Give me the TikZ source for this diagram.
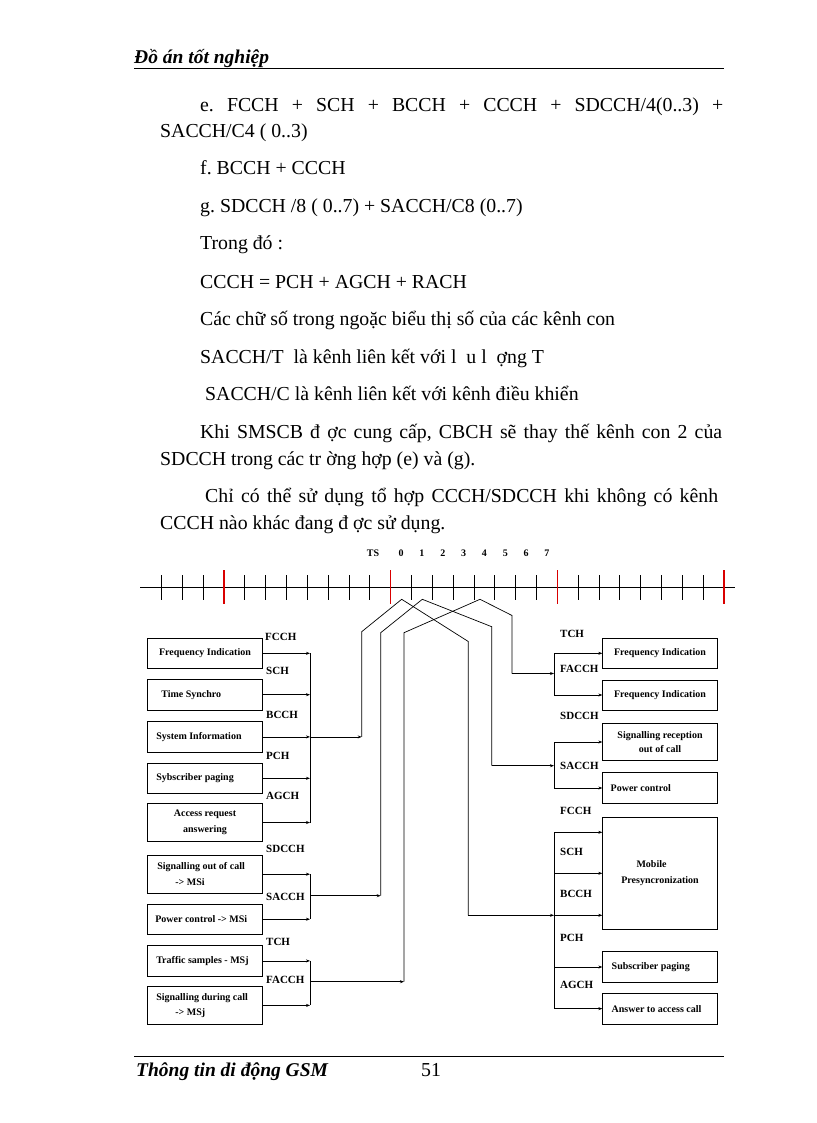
\documentclass[tikz,border=0pt]{standalone}
\usepackage{fontspec}
\setmainfont{Liberation Serif}
\usetikzlibrary{arrows.meta}
\begin{document}
\begin{tikzpicture}[x=1pt,y=-1pt,
  body/.style={anchor=base west,inner sep=0pt,font=\fontsize{19.8}{23}\selectfont\frenchspacing},
  hdr/.style={anchor=base west,inner sep=0pt,font=\fontsize{19.5}{23}\selectfont\bfseries\itshape},
  lbl/.style={anchor=west,inner sep=0pt,font=\fontsize{11}{12}\selectfont\bfseries},
  tslbl/.style={inner sep=0pt,font=\fontsize{10}{12}\selectfont\bfseries},
  bx/.style={draw,line width=0.7pt,inner sep=0pt,font=\fontsize{10}{12.5}\selectfont\bfseries,align=center},
  bxl/.style={bx,align=flush left,inner xsep=7pt,text width=101.4pt},
  ln/.style={line width=0.7pt},
  arr/.style={ln,-{Stealth[length=4pt,width=3pt]}},
  tick/.style={line width=0.7pt},
  redtick/.style={line width=1.4pt,red!85!black},
]
\useasboundingbox (0,0) rectangle (816,1123);
\fill[white] (0,0) rectangle (816,1123);

% ---------- header ----------
\node[hdr] (head) at (134,64) {Đồ án tốt nghiệp};
\draw[line width=0.8pt] (134,68) -- (724,68);

% ---------- body text ----------
\node[body] (t1) at (200,112) {\makebox[523pt][s]{e. FCCH + SCH + BCCH + CCCH + SDCCH/4(0..3) +}};
\node[body] (t2) at (160,138) {SACCH/C4 ( 0..3)};
\node[body] (t3) at (200,175) {f. BCCH + CCCH};
\node[body] (t4) at (200,213) {g. SDCCH /8 ( 0..7) + SACCH/C8 (0..7)};
\node[body] (t5) at (200,250) {Trong đó :};
\node[body] (t6) at (200,288) {CCCH = PCH + AGCH + RACH};
\node[body] (t7) at (200,325) {Các chữ số trong ngoặc biểu thị số của các kênh con};
\node[body] (t8) at (200,363) {SACCH/T\ \ là kênh liên kết với l\ \ u l\ \ ợng T};
\node[body] (t9) at (205,400) {SACCH/C là kênh liên kết với kênh điều khiển};
\node[body] (t10) at (200,438) {\makebox[522pt][s]{Khi SMSCB đ\ ợc cung cấp, CBCH sẽ thay thế kênh con 2 của}};
\node[body] (t11) at (160,465) {SDCCH trong các tr\ ờng hợp (e) và (g).};
\node[body] (t12) at (205,502) {\makebox[513pt][s]{Chỉ có thể sử dụng tổ hợp CCCH/SDCCH khi không có kênh}};
\node[body] (t13) at (160,529) {CCCH nào khác đang đ\ ợc sử dụng.};

% ---------- time axis ----------
\draw[tick] (140,587) -- (735,587);
\foreach \i in {0,...,27}{
  \pgfmathsetmacro\xx{161.5+20.8333*\i}
  \pgfmathtruncatemacro\m{mod(\i,8)}
  \ifnum\m=3
    \draw[redtick] (\xx,570) -- (\xx,604);
  \else
    \draw[tick] (\xx,575) -- (\xx,600);
  \fi
}
\node[tslbl] (ts) at (373,553) {TS};
\foreach \k in {0,...,7}{
  \node[tslbl] (ts\k) at ({401.1+20.8333*\k},553) {\k};
}

% ---------- left boxes ----------
\node[bx,minimum width=115.4pt,minimum height=30pt] (L1) at (205,653.3) {Frequency Indication};
\node[bxl,minimum height=30.7pt] (L2) at (205,694.7) {\hspace*{7pt}Time Synchro};
\node[bxl,minimum height=30.3pt] (L3) at (205,736.9) {\hspace*{2pt}System Information};
\node[bxl,minimum height=30pt] (L4) at (205,778.3) {\hspace*{2pt}Sybscriber paging};
\node[bx,minimum width=115.4pt,minimum height=38.4pt,font=\fontsize{10}{16}\selectfont\bfseries] (L5) at (205,822.5) {Access request\\answering};
\node[bxl,minimum height=38.3pt,font=\fontsize{10}{16.5}\selectfont\bfseries] (L6) at (205,874.2) {\hspace*{3pt}Signalling out of call\\\hspace*{21pt}-> MSi};
\node[bxl,minimum height=30.3pt] (L7) at (205,919.2) {\hspace*{1pt}Power control -> MSi};
\node[bxl,minimum height=30.3pt] (L8) at (205,960.9) {\hspace*{2pt}Traffic samples - MSj};
\node[bxl,minimum height=37.3pt,font=\fontsize{10}{15.5}\selectfont\bfseries] (L9) at (205,1005.4) {\hspace*{2pt}Signalling during call\\\hspace*{21pt}-> MSj};

% left labels
\node[lbl] (lf1) at (265,636.7) {FCCH};
\node[lbl] (lf2) at (266,670.7) {SCH};
\node[lbl] (lf3) at (266,715) {BCCH};
\node[lbl] (lf4) at (266,756) {PCH};
\node[lbl] (lf5) at (266,795.7) {AGCH};
\node[lbl] (lf6) at (266,849.3) {SDCCH};
\node[lbl] (lf7) at (266,896.7) {SACCH};
\node[lbl] (lf8) at (266,941.7) {TCH};
\node[lbl] (lf9) at (266,980) {FACCH};

% left buses
\coordinate (busL) at (310,0);
\foreach \b in {L1,L2,L3,L4,L5,L6,L7,L8,L9}{
  \draw[arr] (\b.east) -- (\b.east -| busL);
}
\draw[ln] (L1.east -| busL) -- (L5.east -| busL);
\draw[ln] (L6.east -| busL) -- (L7.east -| busL);
\draw[ln] (L8.east -| busL) -- (L9.east -| busL);

% ---------- crossing lines ----------
\coordinate (a0) at (361.7,736.9);
\coordinate (a1) at (361.7,631.7);
\coordinate (a2) at (401.7,599.3);
\coordinate (a3) at (468.3,641.5);
\coordinate (a4) at (468.3,915.3);

\coordinate (b0) at (380.7,895.7);
\coordinate (b1) at (380.7,632.7);
\coordinate (b2) at (422.3,599.3);
\coordinate (b3) at (491.7,626.7);
\coordinate (b4) at (491.7,765.7);

\coordinate (c0) at (404,981.7);
\coordinate (c1) at (404,632.7);
\coordinate (c2) at (480,599.3);
\coordinate (c3) at (512,615.5);
\coordinate (c4) at (512,673.5);

\draw[arr] (L3.east -| busL) -- (a0);
\draw[arr] (b0 -| busL) -- (b0);
\draw[arr] (c0 -| busL) -- (c0);
\draw[ln] (a0) -- (a1) -- (a2) -- (a3) -- (a4);
\draw[ln] (b0) -- (b1) -- (b2) -- (b3) -- (b4);
\draw[ln] (c0) -- (c1) -- (c2) -- (c3) -- (c4);

% ---------- right boxes ----------
\node[bx,minimum width=114.6pt,minimum height=30pt] (R1) at (660,653.3) {Frequency Indication};
\node[bx,minimum width=114.6pt,minimum height=30pt] (R2) at (660,695) {Frequency Indication};
\node[bx,minimum width=114.6pt,minimum height=37.4pt,font=\fontsize{10}{13.3}\selectfont\bfseries] (R3) at (660,742) {Signalling reception\\out of call};
\node[bxl,text width=100.6pt,inner xsep=7pt,minimum height=30.6pt] (R4) at (660,788) {\hspace*{1pt}Power control};
\node[bx,minimum width=114.6pt,minimum height=111.7pt,font=\fontsize{10}{16.5}\selectfont\bfseries] (R5) at (660,873.15) {\hspace*{-17pt}Mobile\\Presyncronization};
\node[bxl,text width=100.6pt,inner xsep=7pt,minimum height=30.6pt] (R6) at (660,967) {\hspace*{2pt}Subscriber paging};
\node[bxl,text width=100.6pt,inner xsep=7pt,minimum height=30.7pt] (R7) at (660,1008.65) {\hspace*{2pt}Answer to access call};

% right labels
\node[lbl] (rl1) at (560,633.5) {TCH};
\node[lbl] (rl2) at (560,669.3) {FACCH};
\node[lbl] (rl3) at (560,715.7) {SDCCH};
\node[lbl] (rl4) at (560,765.7) {SACCH};
\node[lbl] (rl5) at (560,810.7) {FCCH};
\node[lbl] (rl6) at (560,851.5) {SCH};
\node[lbl] (rl7) at (560,894) {BCCH};
\node[lbl] (rl8) at (560,937.7) {PCH};
\node[lbl] (rl9) at (560,985) {AGCH};

% right buses
\coordinate (busR) at (554,0);
\coordinate (r5a) at (554,832.3);
\coordinate (r5b) at (554,873.3);
\coordinate (r5c) at (554,915.3);
\draw[arr] (R1.west -| busR) -- (R1.west);
\draw[arr] (R2.west -| busR) -- (R2.west);
\draw[ln] (R1.west -| busR) -- (R2.west -| busR);
\draw[arr] (R3.west -| busR) -- (R3.west);
\draw[arr] (R4.west -| busR) -- (R4.west);
\draw[ln] (R3.west -| busR) -- (R4.west -| busR);
\draw[arr] (r5a) -- (r5a -| R5.west);
\draw[arr] (r5b) -- (r5b -| R5.west);
\draw[arr] (r5c) -- (r5c -| R5.west);
\draw[arr] (R6.west -| busR) -- (R6.west);
\draw[arr] (R7.west -| busR) -- (R7.west);
\draw[ln] (r5a) -- (R7.west -| busR);

\draw[arr] (c4) -- (c4 -| busR);
\draw[arr] (b4) -- (b4 -| busR);
\draw[arr] (a4) -- (a4 -| busR);

% ---------- footer ----------
\draw[line width=0.8pt] (134,1056) -- (724,1056);
\node[hdr] (foot) at (136,1076) {Thông tin di động GSM};
\node[body] (pg) at (421,1076) {51};
\end{tikzpicture}
\end{document}
